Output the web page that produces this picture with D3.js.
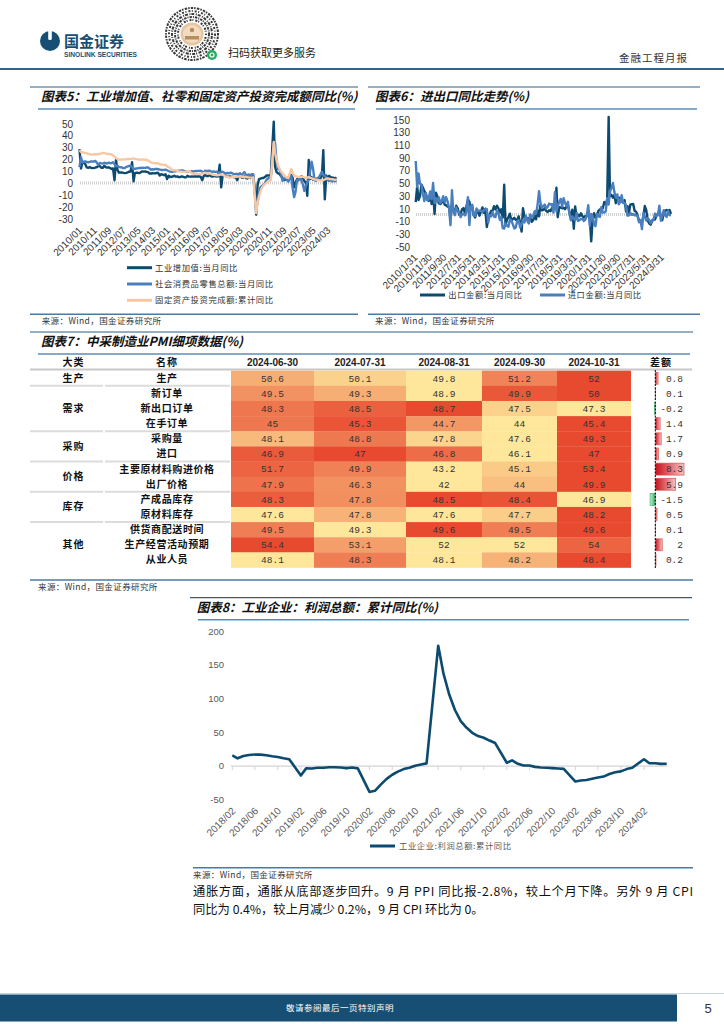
<!DOCTYPE html>
<html><head><meta charset="utf-8">
<script src="https://cdn.jsdelivr.net/npm/d3@7"></script>
<style>
body{margin:0;background:#fff;}
svg{display:block;}
text{font-family:"Liberation Sans",Arial,sans-serif;}
.cjk{font-family:"Noto Sans CJK SC",sans-serif;}
.mono{font-family:"Liberation Mono","DejaVu Sans Mono",monospace;}
</style></head><body>
<svg id="page" width="724" height="1024"></svg>
<script>
// ---------- Chart 5 data (monthly, from 2010/01) ----------
const series5Start = "2010/01";
const ivaYoY = [29,12.8,18.1,17.8,16.5,13.7,13.4,13.9,13.3,13.1,13.3,13.5,
14.1,14.9,14.8,13.4,13.3,15.1,14.0,13.5,13.8,13.2,12.4,12.8,
3,20,11.9,9.3,9.6,9.5,9.2,8.9,9.2,9.6,10.1,10.3,
18,2,8.9,9.3,9.2,8.9,9.7,10.4,10.2,10.3,10.0,9.7,
8.6,8.6,8.8,8.7,8.8,9.2,9.0,6.9,8.0,7.7,7.2,7.9,
4,6.8,5.6,5.9,6.1,6.8,6.0,6.1,5.7,5.6,6.2,5.9,
5.4,5.4,6.8,6.0,6.0,6.2,6.0,6.3,6.1,6.1,6.2,6.0,
3,6.3,7.6,6.5,6.5,7.6,6.4,6.0,6.6,6.2,6.1,6.2,
16,-3,6.0,7.0,6.8,6.0,6.0,6.1,5.8,5.9,5.4,5.7,
3,6.5,8.5,5.4,5.0,6.3,4.8,4.4,5.8,4.7,6.2,6.9,
-4,-25.9,-1.1,3.9,4.4,4.8,4.8,5.6,6.9,6.9,7.0,7.3,
30,52,14.1,9.8,8.8,8.3,6.4,5.3,3.1,3.5,3.8,4.3,
7.5,7.5,5.0,-2.9,0.7,3.9,3.8,4.2,6.3,5.0,2.2,1.3,
-10,20,3.9,5.6,3.5,4.4,3.7,4.5,4.5,4.6,6.6,28,
-13,7,4.5,6.7,5.6,5.3,5.1,4.5,5.4];
const retailYoY = [14,22.1,18.0,18.5,18.7,18.3,17.9,18.4,18.8,18.6,18.7,19.1,
null,15.8,17.4,17.1,16.9,17.7,17.2,17.0,17.7,17.2,17.3,18.1,
null,14.7,15.2,14.1,13.8,13.7,13.1,13.2,14.2,14.5,14.9,15.2,
null,12.3,12.6,12.8,12.9,13.3,13.2,13.4,13.3,13.3,13.7,13.6,
null,11.8,12.2,11.9,12.5,12.4,12.2,11.9,11.6,11.5,11.7,11.9,
null,10.7,10.2,10.0,10.1,10.6,10.5,10.8,10.9,11.0,11.2,11.1,
null,10.2,10.5,10.1,10.0,10.6,10.2,10.6,10.7,10.8,10.8,10.9,
null,9.5,10.9,10.7,10.7,11.0,10.4,10.1,10.3,10.0,10.2,9.4,
null,9.7,10.1,9.4,8.5,9.0,8.8,9.0,9.2,8.6,8.1,8.2,
null,8.2,8.7,7.2,8.6,9.8,7.6,7.5,7.8,7.2,8.0,8.0,
null,-20.5,-15.8,-7.5,-2.8,-1.8,-1.1,0.5,3.3,4.3,5.0,4.6,
null,33.8,34.2,17.7,12.4,12.1,8.5,2.5,4.4,4.9,3.9,1.7,
null,6.7,-3.5,-11.1,-6.7,3.1,2.7,5.4,2.5,-0.5,-5.9,-1.8,
null,3.5,10.6,18.4,12.7,3.1,2.5,4.6,5.5,7.6,10.1,7.4,
null,5.5,3.1,2.3,3.7,2.0,2.7,2.1,3.2];
const faiYoY = [28,26.6,26.4,26.1,25.9,25.5,24.9,24.8,24.5,24.4,24.9,24.5,
null,24.9,25.0,25.4,25.8,25.6,25.4,25.0,24.9,24.9,24.5,23.8,
null,21.5,20.9,20.2,20.1,20.4,20.4,20.2,20.5,20.7,20.7,20.6,
null,21.2,20.9,20.6,20.4,20.1,20.1,20.3,20.2,20.1,19.9,19.6,
null,17.9,17.6,17.3,17.2,17.3,17.0,16.5,16.1,15.9,15.8,15.7,
null,13.9,13.5,12.0,11.4,11.4,11.2,10.9,10.3,10.2,10.2,10.0,
null,10.2,10.7,10.5,9.6,9.0,8.1,8.1,8.2,8.3,8.3,8.1,
null,8.9,9.2,8.9,8.6,8.6,8.3,7.8,7.5,7.3,7.2,7.2,
null,7.9,7.5,7.0,6.1,6.0,5.5,5.3,5.4,5.7,5.9,5.9,
null,6.1,6.3,6.1,5.6,5.8,5.7,5.5,5.4,5.2,5.2,5.4,
null,-24.5,-16.1,-10.3,-6.3,-3.1,-1.6,-0.3,0.8,1.8,2.6,2.9,
null,35.0,25.6,19.9,15.4,12.6,10.3,8.9,7.3,6.1,5.2,4.9,
null,12.2,9.3,6.8,6.2,6.1,5.7,5.8,5.9,5.8,5.3,5.1,
null,5.5,5.1,4.7,4.0,3.8,3.4,3.2,3.1,2.9,2.9,3.0,
null,4.2,4.5,4.2,4.0,3.9,3.6,3.4,3.4];
const xLabels5 = ["2010/01","2010/11","2011/09","2012/07","2013/05","2014/03","2015/01","2015/11","2016/09","2017/07","2018/05","2019/03","2020/01","2020/11","2021/09","2022/07","2023/05","2024/03"];
const yTicks5 = [-30,-20,-10,0,10,20,30,40,50];
const legend5 = ["工业增加值:当月同比","社会消费品零售总额:当月同比","固定资产投资完成额:累计同比"];

// ---------- Chart 6 data (monthly, from 2010/01) ----------
const series6Start = "2010/01";
const exportYoY = [21,45.7,24.3,30.5,48.5,43.9,38.1,34.4,25.1,22.9,34.9,17.9,
37.7,2.4,35.8,29.9,19.4,17.9,20.4,24.5,17.1,15.9,13.8,13.4,
-0.5,18.4,8.9,4.9,15.3,11.3,1.0,2.7,9.9,11.6,2.9,14.1,
25.0,21.8,10.0,14.7,1.0,-3.1,5.1,7.2,-0.3,5.6,12.7,4.3,
10.6,-18.1,-6.6,0.9,7.0,7.2,14.5,9.4,15.3,11.6,4.7,9.7,
-3.3,48.3,-15.0,-6.4,-2.5,2.8,-8.3,-5.5,-3.7,-6.9,-6.8,-1.4,
-11.2,-25.4,11.5,-1.8,-4.1,-4.8,-4.4,-2.8,-10.0,-7.3,0.1,-6.1,
7.9,-1.3,16.4,8.0,8.7,11.3,7.2,5.5,8.1,6.9,12.3,10.9,
11.1,43.5,-2.7,12.9,12.6,11.3,12.2,9.8,14.5,15.6,5.4,-4.4,
9.1,-20.8,14.2,-2.7,1.1,-1.3,3.3,-1.0,-3.2,-0.9,-1.1,7.6,
-3,-40.6,-6.6,3.5,-3.3,0.5,7.2,9.5,9.9,11.4,21.1,18.1,
24.7,154.9,30.6,32.3,27.9,32.2,19.3,25.6,28.1,27.1,22.0,20.9,
24.1,6.2,14.7,3.9,16.9,17.9,18.0,7.1,5.7,-0.3,-8.7,-9.9,
-10.5,-1.3,14.8,8.5,-7.5,-12.4,-14.5,-8.8,-6.2,-6.4,0.5,2.3,
8.0,-1.5,-7.5,1.5,7.6,8.6,7.0,8.7,2.4];
const importYoY = [85.5,44.7,66.0,49.7,48.3,34.1,22.7,35.2,24.1,25.3,37.7,25.6,
51.0,19.4,27.3,21.8,28.4,19.3,22.9,30.2,20.9,28.7,22.1,11.8,
-15.3,39.6,5.3,0.3,12.7,6.3,4.7,-2.6,2.4,2.4,0.0,6.0,
28.8,-15.2,14.1,16.8,-0.3,-0.7,10.9,7.0,7.4,7.6,5.3,8.3,
10.0,10.1,-11.3,0.8,-1.6,5.5,-1.6,-2.4,7.0,4.6,-6.7,-2.4,
-19.9,-20.5,-12.7,-16.2,-17.6,-6.1,-8.1,-13.8,-20.4,-18.8,-8.7,-7.6,
-18.8,-13.8,-7.6,-10.9,-0.4,-8.4,-12.5,1.5,-1.9,-1.4,6.7,3.1,
16.7,38.1,20.3,11.9,14.8,17.2,11.0,13.3,18.7,17.2,17.7,4.5,
36.9,6.3,14.4,21.5,26.0,14.1,27.3,20.0,14.3,21.4,3.0,-7.6,
-1.5,-5.2,-7.6,4.0,-8.5,-7.3,-5.6,-5.6,-8.5,-6.4,0.3,16.3,
-16.4,2.4,-0.9,-14.2,-16.7,2.7,-1.4,-2.1,13.2,4.7,4.5,6.5,
27.0,17.3,38.1,43.1,51.1,36.7,28.1,33.1,17.6,20.6,31.7,19.5,
20.0,15.5,-0.1,0.0,4.1,1.0,2.3,0.3,0.3,-0.7,-10.6,-7.5,
-21.3,4.2,-1.4,-7.9,-4.5,-6.8,-12.4,-7.3,-6.2,3.0,-0.6,0.2,
15.5,-8.2,-1.9,8.4,1.8,-2.3,7.2,0.5,0.3];
const xLabels6 = ["2010/1/31","2010/11/30","2011/9/30","2012/7/31","2013/5/31","2014/3/31","2015/1/31","2015/11/30","2016/9/30","2017/7/31","2018/5/31","2019/3/31","2020/1/31","2020/11/30","2021/9/30","2022/7/31","2023/5/31","2024/3/31"];
const yTicks6 = [-50,-30,-10,10,30,50,70,90,110,130,150];
const legend6 = ["出口金额:当月同比","进口金额:当月同比"];

// ---------- Table 7 data ----------
const pmiDates = ["2024-06-30","2024-07-31","2024-08-31","2024-09-30","2024-10-31"];
const pmiGroups = ["生产","需求","采购","价格","库存","其他"];
const pmiGroupSizes = [1,3,2,2,2,3];
const pmiItems = ["生产","新订单","新出口订单","在手订单","采购量","进口","主要原材料购进价格","出厂价格","产成品库存","原材料库存","供货商配送时间","生产经营活动预期","从业人员"];
const pmiValues = [
 [50.6,50.1,49.8,51.2,52],
 [49.5,49.3,48.9,49.9,50],
 [48.3,48.5,48.7,47.5,47.3],
 [45,45.3,44.7,44,45.4],
 [48.1,48.8,47.8,47.6,49.3],
 [46.9,47,46.8,46.1,47],
 [51.7,49.9,43.2,45.1,53.4],
 [47.9,46.3,42,44,49.9],
 [48.3,47.8,48.5,48.4,46.9],
 [47.6,47.8,47.6,47.7,48.2],
 [49.5,49.3,49.6,49.5,49.6],
 [54.4,53.1,52,52,54],
 [48.1,48.3,48.1,48.2,48.4]];
const pmiDiff = [0.8,0.1,-0.2,1.4,1.7,0.9,8.3,5.9,-1.5,0.5,0.1,2,0.2];

// ---------- Chart 8 data (monthly, from 2018/02; January not published) ----------
const series8Start = "2018/02";
const profitYoY = [16.1,11.6,15.0,16.5,17.2,17.1,16.2,14.7,13.6,11.8,10.3,
null,-14.0,-3.3,-3.4,-2.3,-2.4,-1.7,-1.7,-2.1,-2.9,-2.1,-3.3,
null,-38.3,-36.7,-27.4,-19.3,-12.8,-8.1,-4.4,-2.4,0.7,2.4,4.1,
null,178.9,137.3,106.0,83.4,66.9,57.3,49.5,44.7,42.2,38.0,34.3,
null,5.0,8.5,3.5,1.0,1.0,-1.1,-2.1,-2.3,-3.0,-3.6,-4.0,
null,-22.9,-21.4,-20.6,-18.8,-16.8,-15.5,-11.7,-9.0,-7.8,-4.4,-2.3,
null,10.2,4.3,4.3,3.4,3.5];
const xLabels8 = ["2018/02","2018/06","2018/10","2019/02","2019/06","2019/10","2020/02","2020/06","2020/10","2021/02","2021/06","2021/10","2022/02","2022/06","2022/10","2023/02","2023/06","2023/10","2024/02"];
const yTicks8 = [-50,0,50,100,150,200];
const legend8 = "工业企业:利润总额:累计同比";

// ---------- drawing ----------
const NAVY="#0d4a6f", BLUE="#4a7fbf", PEACH="#f8c8a4", THEME="#174f74", UNDER="#5d8db5";
const svg = d3.select("#page");
const pm = d3.timeParse("%Y/%m");
const pd = d3.timeParse("%Y/%m/%d");

function hLine(x1,x2,y,color,w){return svg.append("line").attr("x1",x1).attr("x2",x2).attr("y1",y).attr("y2",y).attr("stroke",color).attr("stroke-width",w);}
function cjkText(x,y,t,size,opts={}){
  const s=svg.append("text").attr("class","cjk").attr("x",x).attr("y",y).attr("font-size",size).text(t)
   .attr("fill",opts.fill||"#222").attr("text-anchor",opts.anchor||"start");
  if(opts.weight) s.attr("font-weight",opts.weight);
  if(opts.italic) s.attr("font-style","italic");
  if(opts.dy) s.attr("dy",opts.dy);
  if(opts.ls) s.attr("letter-spacing",opts.ls);
  return s;
}
function panelHead(x1,x2,yTop,tx,title){
  hLine(x1,x2,yTop,"#2f5f84",1.2);
  cjkText(tx,yTop+14,title,12.5,{weight:700,italic:true,fill:"#111"});
  hLine(x1+8,x2-3,yTop+22,UNDER,1.6);
}
function source(x1,x2,y,tx){
  hLine(x1,x2,y,"#4a7aa2",1.5);
  cjkText(tx,y+10,"来源：Wind，国金证券研究所",8.5,{fill:"#333",ls:0.4});
}
function monthSeries(start, arr){
  const s=pm(start);
  return arr.map((v,i)=>({date:d3.timeMonth.offset(s,i),v:v})).filter(d=>d.v!==null);
}

// ----- header -----
svg.append("circle").attr("cx",50).attr("cy",41).attr("r",10).attr("fill",THEME);
svg.append("rect").attr("x",48.2).attr("y",30).attr("width",3.6).attr("height",10).attr("rx",1.5).attr("fill","#fff");
cjkText(64,47,"国金证券",15,{weight:700,fill:THEME});
svg.append("text").attr("x",64).attr("y",56.5).attr("font-size",6.6).attr("font-weight",700).attr("fill",THEME).attr("textLength",73).text("SINOLINK SECURITIES");
const qr=svg.append("g").attr("transform","translate(192,34)");
[[26,"1.5,1.2,2.5,1"],[23,"2,1.5,1,2"],[20,"1,1,3,1.5"],[17,"2.5,1,1,1"],[14,"1,2,2,1"]].forEach(([r,da])=>{
  qr.append("circle").attr("r",r).attr("fill","none").attr("stroke","#3a3a3a").attr("stroke-width",2).attr("stroke-dasharray",da);
});
qr.append("circle").attr("r",11.5).attr("fill","#e6c6a2");
qr.append("circle").attr("r",9).attr("fill","#f1dcc2");
qr.append("rect").attr("x",-7).attr("y",2).attr("width",14).attr("height",3.5).attr("fill","#b98c5e");
qr.append("circle").attr("cy",-4).attr("r",2.2).attr("fill","#b98c5e");
svg.append("circle").attr("cx",212).attr("cy",55).attr("r",5).attr("fill","#22ad5f");
svg.append("circle").attr("cx",212).attr("cy",55).attr("r",2).attr("fill","none").attr("stroke","#fff").attr("stroke-width",1.2);
cjkText(228,57,"扫码获取更多服务",11,{fill:"#222"});
cjkText(688,62,"金融工程月报",10.5,{fill:"#333",anchor:"end",ls:1});
hLine(0,724,69,"#2c6590",1.8);

// ----- Chart 5 -----
panelHead(30,358,87,41,"图表5：工业增加值、社零和固定资产投资完成额同比(%)");
const x5=d3.scaleTime().domain([pm("2010/01"),pm("2024/09")]).range([79.5,336.5]);
const y5=d3.scaleLinear().domain([-30,50]).range([219.7,124]);
hLine(80,337,y5(0)-0.8,"#cfcfcf",3).attr("stroke-dasharray","1,1");
svg.append("g").selectAll("text").data(yTicks5).join("text")
 .attr("x",73).attr("y",d=>y5(d)).attr("dy","0.35em").attr("text-anchor","end")
 .attr("font-size",10).attr("fill","#333").text(d=>d);
svg.append("g").selectAll("text").data(xLabels5).join("text")
 .attr("transform",d=>`translate(${x5(pm(d))+3.5},231) rotate(-45)`).attr("text-anchor","end")
 .attr("font-size",10).attr("fill","#333").text(d=>d);
const line5=d3.line().x(d=>x5(d.date)).y(d=>y5(d.v));
[[ivaYoY,NAVY],[retailYoY,BLUE],[faiYoY,PEACH]].forEach(([arr,c])=>{
  svg.append("path").attr("d",line5(monthSeries(series5Start,arr))).attr("fill","none").attr("stroke",c).attr("stroke-width",2.4).attr("stroke-linejoin","round");
});
[NAVY,BLUE,PEACH].forEach((c,i)=>{
  const yy=267.7+i*16.3;
  hLine(127,152,yy,c,3);
  cjkText(155,yy,legend5[i],8.3,{dy:"0.35em",fill:"#333",ls:0.6});
});
source(30,358,314.3,41.7);

// ----- Chart 6 -----
panelHead(368,700,87,375,"图表6：进出口同比走势(%)");
const x6=d3.scaleTime().domain([pm("2010/01"),pm("2024/09")]).range([415.7,671]);
const y6=d3.scaleLinear().domain([-50,150]).range([247.3,120]);
hLine(416,671,y6(0)-1,"#cfcfcf",3).attr("stroke-dasharray","1,1");
svg.append("g").selectAll("text").data(yTicks6).join("text")
 .attr("x",410).attr("y",d=>y6(d)).attr("dy","0.35em").attr("text-anchor","end")
 .attr("font-size",10).attr("fill","#333").text(d=>d);
svg.append("g").selectAll("text").data(xLabels6).join("text")
 .attr("transform",d=>`translate(${x6(d3.timeMonth.floor(pd(d)))+2.5},258) rotate(-45)`).attr("text-anchor","end")
 .attr("font-size",10).attr("fill","#333").text(d=>d);
const line6=d3.line().x(d=>x6(d.date)).y(d=>y6(d.v));
[[exportYoY,NAVY],[importYoY,BLUE]].forEach(([arr,c])=>{
  svg.append("path").attr("d",line6(monthSeries(series6Start,arr))).attr("fill","none").attr("stroke",c).attr("stroke-width",2.4).attr("stroke-linejoin","round");
});
[[420,NAVY,448.3],[540,BLUE,567.7]].forEach(([lx,c,tx],i)=>{
  hLine(lx,lx+25,295,c,3);
  cjkText(tx,295,legend6[i],8.3,{dy:"0.35em",fill:"#333",ls:0.6});
});
source(368,700,314.3,375);

// ----- Table 7 -----
panelHead(30,693,332,41,"图表7：中采制造业PMI细项数据(%)");
const colX=[231,314,406,482,557,631];
const rowH=15.14, row0=370.7;
const rowTop=i=>row0+i*rowH;
const headY=362.3;
cjkText(73.6,headY,"大类",10,{anchor:"middle",dy:"0.35em",weight:700,fill:"#111",ls:1});
cjkText(167,headY,"名称",10,{anchor:"middle",dy:"0.35em",weight:700,fill:"#111",ls:1});
pmiDates.forEach((d,j)=>{
  svg.append("text").attr("x",(colX[j]+colX[j+1])/2).attr("y",headY).attr("dy","0.35em").attr("text-anchor","middle")
   .attr("font-size",10).attr("font-weight",700).attr("fill","#222").text(d);
});
cjkText(661,headY,"差额",10,{anchor:"middle",dy:"0.35em",weight:700,fill:"#111",ls:1});
hLine(30,692,369.5,"#c8c8c8",2);
pmiValues.forEach((row,i)=>{
  const cs=d3.scaleLinear().domain(d3.extent(row)).range(["#fee79b","#e84a30"]);
  row.forEach((v,j)=>{
    svg.append("rect").attr("x",colX[j]).attr("y",rowTop(i)).attr("width",colX[j+1]-colX[j]).attr("height",rowH+0.3).attr("fill",cs(v));
    svg.append("text").attr("class","mono").attr("x",(colX[j]+colX[j+1])/2).attr("y",rowTop(i)+rowH/2).attr("dy","0.35em")
     .attr("text-anchor","middle").attr("font-size",9.5).attr("fill","#333").text(String(v));
  });
  cjkText(167,rowTop(i)+rowH/2,pmiItems[i],10,{anchor:"middle",dy:"0.35em",weight:600,fill:"#111",ls:0.6});
});
let acc=0;
pmiGroups.forEach((g,k)=>{
  const n=pmiGroupSizes[k];
  const cy=rowTop(acc)+n*rowH/2;
  cjkText(73.6,cy,g,10,{anchor:"middle",dy:"0.35em",weight:600,fill:"#111",ls:1});
  acc+=n;
  if(k<pmiGroups.length-1){
    hLine(30,103,rowTop(acc),"#dcdcdc",2);
    hLine(105,230,rowTop(acc),"#dcdcdc",2);
  }
});
const defs=svg.append("defs");
const gr=defs.append("linearGradient").attr("id","gRed").attr("x1","0").attr("x2","1");
gr.append("stop").attr("offset","0").attr("stop-color","#c8101c");
gr.append("stop").attr("offset","1").attr("stop-color","#f6c3c3");
const gg=defs.append("linearGradient").attr("id","gGreen").attr("x1","1").attr("x2","0");
gg.append("stop").attr("offset","0").attr("stop-color","#2fae5f");
gg.append("stop").attr("offset","1").attr("stop-color","#c9eed6");
const dx0=655.3;
const ds=d3.scaleLinear().domain([0,8.3]).range([0,28.7]);
pmiDiff.forEach((v,i)=>{
  const w=Math.abs(ds(v));
  svg.append("rect").attr("x",v>=0?dx0:dx0-w).attr("y",rowTop(i)+1.6).attr("width",w).attr("height",rowH-3.2)
   .attr("fill",v>=0?"url(#gRed)":"url(#gGreen)").attr("stroke",v>=0?"#d9534f":"#3cb36a").attr("stroke-width",0.7);
  svg.append("text").attr("class","mono").attr("x",683).attr("y",rowTop(i)+rowH/2).attr("dy","0.35em").attr("text-anchor","end")
   .attr("font-size",9.5).attr("fill","#333").text(String(v));
});
svg.append("line").attr("x1",dx0).attr("x2",dx0).attr("y1",370).attr("y2",568).attr("stroke","#000").attr("stroke-width",1).attr("stroke-dasharray","2,1.5");
source(30,693,580,38);

// ----- Chart 8 -----
panelHead(190,692,597.7,196.7,"图表8：工业企业：利润总额：累计同比(%)");
const x8=d3.scaleTime().domain([pm("2018/02"),pm("2024/06")]).range([232.3,666.7]);
const y8=d3.scaleLinear().domain([-50,200]).range([799.8,631.5]);
hLine(231,667,y8(0),"#d4d4d4",1.2);
svg.append("g").selectAll("line").data(xLabels8).join("line")
 .attr("x1",d=>x8(pm(d))).attr("x2",d=>x8(pm(d))).attr("y1",y8(0)).attr("y2",y8(0)+4).attr("stroke","#d4d4d4").attr("stroke-width",1);
svg.append("g").selectAll("text").data(yTicks8).join("text")
 .attr("x",224).attr("y",d=>y8(d)).attr("dy","0.35em").attr("text-anchor","end")
 .attr("font-size",9.5).attr("fill","#595959").text(d=>d);
svg.append("g").selectAll("text").data(xLabels8).join("text")
 .attr("transform",d=>`translate(${x8(pm(d))+4},811.5) rotate(-45)`).attr("text-anchor","end")
 .attr("font-size",10).attr("fill","#595959").text(d=>d);
const line8=d3.line().x(d=>x8(d.date)).y(d=>y8(d.v));
svg.append("path").attr("d",line8(monthSeries(series8Start,profitYoY))).attr("fill","none").attr("stroke",NAVY).attr("stroke-width",2.6).attr("stroke-linejoin","round");
hLine(370,395,846,NAVY,3);
cjkText(399,846,legend8,8.3,{dy:"0.35em",fill:"#595959",ls:0.6});
source(193,693,867.7,193);

// ----- paragraph -----
cjkText(193,896,"通胀方面，通胀从底部逐步回升。9 月 PPI 同比报-2.8%，较上个月下降。另外 9 月 CPI",12.3,{fill:"#111"})
  .attr("textLength",500).attr("lengthAdjust","spacing");
cjkText(193,914,"同比为 0.4%，较上月减少 0.2%，9 月 CPI 环比为 0。",12.3,{fill:"#111"});

// ----- footer -----
hLine(0,724,993.5,"#c9d6e0",1);
svg.append("rect").attr("x",0).attr("y",994.5).attr("width",677).attr("height",27).attr("fill",THEME);
cjkText(340,1008,"敬请参阅最后一页特别声明",8.5,{fill:"#fff",anchor:"middle",dy:"0.35em",ls:0.5});
svg.append("text").attr("x",708).attr("y",1008).attr("dy","0.35em").attr("text-anchor","middle").attr("font-size",13).attr("fill","#333").text("5");
</script>
</body></html>
